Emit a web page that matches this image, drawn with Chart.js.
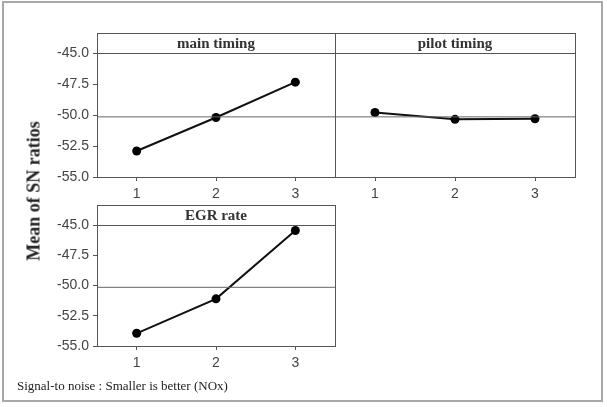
<!DOCTYPE html>
<html>
<head>
<meta charset="utf-8">
<script src="https://cdn.jsdelivr.net/npm/chart.js@4/dist/chart.umd.min.js"></script>
<style>
  body { margin: 0; background: #fff; }
  #wrap { position: relative; width: 607px; height: 407px; overflow: hidden; }
  #wrap canvas { position: absolute; left: 0; top: 0; }
  .frame { position: absolute; left: 2px; top: 1px; width: 597px; height: 397px; border: 2px solid #a8a8a8; }
  .ttl { position: absolute; font: bold 15px "Liberation Serif", serif; color: #333; text-align: center; line-height: 20px; }
  .ylab { position: absolute; left: 34px; top: 191px; transform: translate(-50%, -50%) rotate(-90deg);
          font: bold 18px "Liberation Serif", serif; color: #222; white-space: nowrap; }
  .foot { position: absolute; left: 17px; top: 378px; font: 13px "Liberation Serif", serif; color: #222; white-space: nowrap; }
</style>
</head>
<body>
<div id="wrap">
  <div class="frame"></div>
  <canvas id="c1" width="607" height="407"></canvas>
  <canvas id="c2" width="607" height="407"></canvas>
  <canvas id="c3" width="607" height="407"></canvas>
  <div class="ttl" style="left:97px;top:33px;width:238px;">main timing</div>
  <div class="ttl" style="left:335px;top:33px;width:240px;">pilot timing</div>
  <div class="ttl" style="left:97px;top:205px;width:238px;">EGR rate</div>
  <div class="ylab">Mean of SN ratios</div>
  <div class="foot">Signal-to noise : Smaller is better (NOx)</div>
</div>
<script>
// levels and SN ratio means
const levels = [1, 2, 3];
const mainTiming = [-52.9, -50.2, -47.35];
const pilotTiming = [-49.8, -50.35, -50.3];
const egrRate = [-53.95, -51.1, -45.45];
const meanSN = -50.15;
const yTicks = [-45, -47.5, -50, -52.5, -55];

const axisColor = '#555';

// header strip + panel border
const panelFrame = {
  id: 'panelFrame',
  afterDraw(chart) {
    const { ctx, chartArea: a } = chart;
    ctx.save();
    ctx.strokeStyle = axisColor;
    ctx.lineWidth = 1;
    const l = Math.round(a.left) + 0.5, r = Math.round(a.right) + 0.5;
    const t = Math.round(a.top) + 0.5, b = Math.round(a.bottom) + 0.5;
    ctx.strokeRect(l, t - 20, r - l, b - t + 20);
    ctx.beginPath();
    ctx.moveTo(l, t);
    ctx.lineTo(r, t);
    ctx.stroke();
    ctx.restore();
  }
};

function makePanel(id, values, pad, showY) {
  const pts = levels.map((x, i) => ({ x: x, y: values[i] }));
  new Chart(document.getElementById(id), {
    type: 'line',
    data: {
      datasets: [
        {
          data: [{ x: 0.5, y: meanSN }, { x: 3.5, y: meanSN }],
          borderColor: '#666',
          borderWidth: 1,
          pointRadius: 0
        },
        {
          data: pts,
          borderColor: '#111',
          backgroundColor: '#000',
          borderWidth: 2,
          pointRadius: 4.5,
          pointBorderWidth: 0
        }
      ]
    },
    options: {
      responsive: false,
      animation: false,
      layout: { padding: pad },
      plugins: { legend: { display: false }, tooltip: { enabled: false } },
      scales: {
        x: {
          type: 'linear',
          min: 0.5,
          max: 3.5,
          afterBuildTicks: (s) => { s.ticks = levels.map(v => ({ value: v })); },
          afterFit: (s) => { s.height = 24; },
          border: { color: axisColor },
          grid: { drawOnChartArea: false, tickLength: 4, color: axisColor },
          ticks: { color: '#444', padding: 5, font: { family: 'Liberation Sans', size: 14 } }
        },
        y: {
          display: showY,
          min: -55,
          max: -45,
          afterBuildTicks: (s) => { s.ticks = yTicks.map(v => ({ value: v })); },
          afterFit: (s) => { s.width = showY ? 40 : 0; },
          border: { color: axisColor },
          grid: { drawOnChartArea: false, tickLength: 4, color: axisColor },
          ticks: {
            color: '#444',
            padding: 4,
            font: { family: 'Liberation Sans', size: 14 },
            callback: (v) => v.toFixed(1)
          }
        }
      }
    },
    plugins: [panelFrame]
  });
}

makePanel('c1', mainTiming, { left: 57, right: 272, top: 53, bottom: 206 }, true);
makePanel('c2', pilotTiming, { left: 335, right: 32, top: 53, bottom: 206 }, false);
makePanel('c3', egrRate, { left: 57, right: 272, top: 225, bottom: 37 }, true);
</script>
</body>
</html>
